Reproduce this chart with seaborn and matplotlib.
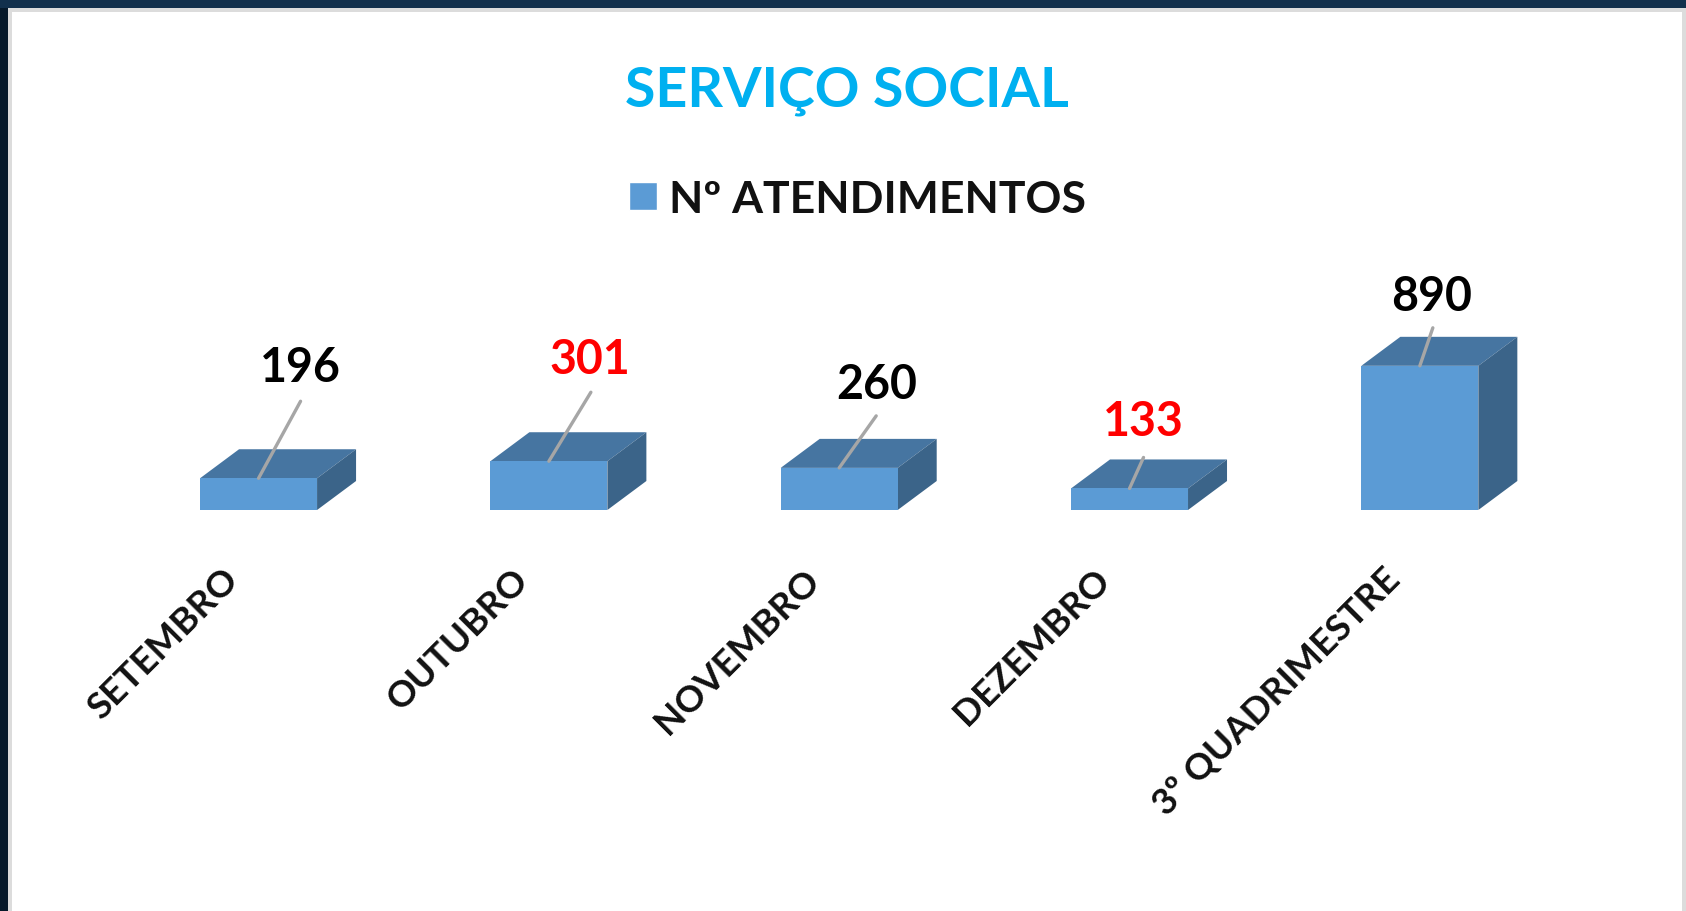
import matplotlib
matplotlib.use('Agg')
import pandas as pd
import seaborn as sns
import matplotlib.pyplot as plt
from matplotlib.patches import Polygon, Rectangle, Patch
from matplotlib.transforms import ScaledTranslation

meses = ['SETEMBRO', 'OUTUBRO', 'NOVEMBRO', 'DEZEMBRO', '3º QUADRIMESTRE']
atendimentos = [196, 301, 260, 133, 890]
cor_rotulo = ['black', 'red', 'black', 'red', 'black']

# pixel offsets from the top of each bar
offset_linha = [(42, 77), (42, 69), (37, 52), (14, 31), (13, 38)]
offset_rotulo = [(42, 111), (41, 102), (37, 84), (14, 67), (12, 70)]

W, H = 1686, 912
FRENTE, TOPO, LADO = '#5B9BD5', '#4675A1', '#3B6489'

sns.set_theme(style='white')
plt.rcParams['font.family'] = ['Lato', 'DejaVu Sans']

fig = plt.figure(figsize=(W / 100, H / 100), dpi=100, facecolor='#06192A')


def px_rect(x0, y0, x1, y1, cor):
    fig.patches.append(Rectangle((x0 / W, 1 - y1 / H), (x1 - x0) / W, (y1 - y0) / H,
                                 transform=fig.transFigure, facecolor=cor, edgecolor='none'))


px_rect(0, 0, W, 9, '#12304C')
px_rect(8, 9, W, H, '#DCDCDC')
px_rect(12, 13, W - 4, H, 'white')

# axes placed so that one category is 290 px wide and the baseline sits at y=511
left, right, top, base = 113.4, 1565, 240, 511
ax = fig.add_axes([left / W, 1 - base / H, (right - left) / W, (base - top) / H])
ax.set_zorder(5)
ax.patch.set_alpha(0)

df = pd.DataFrame({'mes': meses, 'n': atendimentos})
sns.barplot(data=df, x='mes', y='n', color=FRENTE, saturation=1, width=0.403,
            linewidth=0, ax=ax, zorder=3)
ax.set_xlim(-0.5, 4.5)
ax.set_ylim(0, (base - top) / 0.162)
ax.set_xlabel('')
ax.set_ylabel('')
ax.set_yticks([])
sns.despine(ax=ax, left=True, bottom=True)

# depth of the 3d effect, converted from pixels to data units
dx = 39 * 5 / (right - left)
dy = 29 * ax.get_ylim()[1] / (base - top)
for bar in list(ax.patches):
    x0, x1, h = bar.get_x(), bar.get_x() + bar.get_width(), bar.get_height()
    ax.add_patch(Polygon([(x0, h), (x1, h), (x1 + dx, h + dy), (x0 + dx, h + dy)],
                         facecolor=TOPO, edgecolor='none', zorder=2, clip_on=False))
    ax.add_patch(Polygon([(x1, 0), (x1 + dx, dy), (x1 + dx, h + dy), (x1, h)],
                         facecolor=LADO, edgecolor='none', zorder=2, clip_on=False))

for i, n in enumerate(atendimentos):
    ax.annotate('', xy=(i, n), xytext=offset_linha[i], textcoords='offset pixels',
                arrowprops=dict(arrowstyle='-', color='#A6A6A6', lw=2.4, shrinkA=0, shrinkB=0),
                zorder=4, annotation_clip=False)
    ax.annotate(str(n), xy=(i, n), xytext=offset_rotulo[i], textcoords='offset pixels',
                ha='center', va='center', fontsize=33.5, fontweight='bold',
                color=cor_rotulo[i], annotation_clip=False)

ax.tick_params(axis='x', length=0, pad=0)
ax.set_xticks(range(len(meses)))
ax.set_xticklabels(meses, rotation=45, ha='right', va='top', rotation_mode='anchor',
                   fontsize=26.5, fontweight='bold', color='#111111')
deslocamento = ScaledTranslation(-37 / 100, -52 / 100, fig.dpi_scale_trans)
for t in ax.get_xticklabels():
    t.set_transform(t.get_transform() + deslocamento)

fig.text(847 / W, 1 - 91 / H, 'SERVIÇO SOCIAL', ha='center', va='center',
         fontsize=40, fontweight='bold', color='#00B0F0')

fig.legend(handles=[Patch(facecolor=FRENTE, label='Nº ATENDIMENTOS')],
           loc='center left', bbox_to_anchor=(611 / W, 1 - 200 / H), frameon=False,
           prop=dict(size=32, weight='bold'), labelcolor='#111111',
           handlelength=0.63, handleheight=0.6, handletextpad=0.27, borderaxespad=0)

fig.savefig('out.png', dpi=100, facecolor=fig.get_facecolor())
